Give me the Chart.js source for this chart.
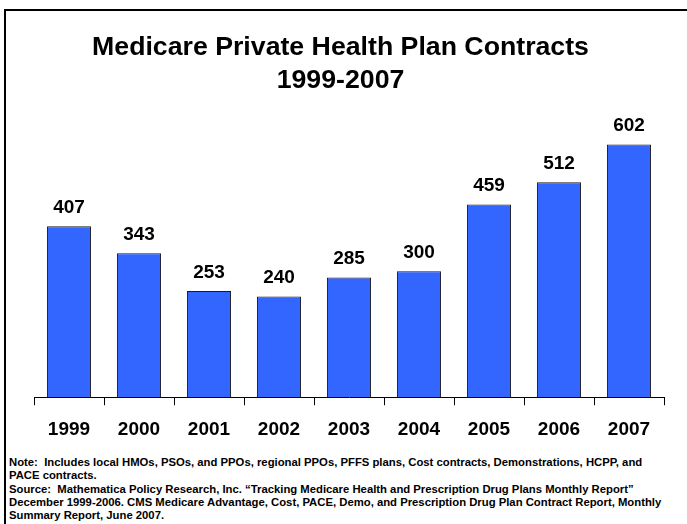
<!DOCTYPE html>
<html>
<head>
<meta charset="utf-8">
<script src="https://cdn.jsdelivr.net/npm/chart.js@4"></script>
<style>
  body { margin: 0; background: #fff; font-family: "Liberation Sans", Arial, sans-serif; }
  #wrap { position: relative; width: 687px; height: 524px; overflow: hidden; }
  #frame { position: absolute; left: 4px; top: 9px; width: 700px; height: 600px;
           border-top: 2px solid #000; border-left: 2px solid #000; }
  #chartBox { position: absolute; left: 0; top: 0; width: 687px; height: 455px; }
  #note { position: absolute; left: 9px; top: 456px; font-size: 11.3px; font-weight: bold;
          line-height: 13.3px; color: #000; white-space: nowrap; }
</style>
</head>
<body>
<div id="wrap">
  <div id="frame"></div>
  <div id="chartBox"><canvas id="chart"></canvas></div>
  <div id="note">
    Note:&nbsp; Includes local HMOs, PSOs, and PPOs, regional PPOs, PFFS plans, Cost contracts, Demonstrations, HCPP, and<br>
    PACE contracts.<br>
    Source:&nbsp; Mathematica Policy Research, Inc. “Tracking Medicare Health and Prescription Drug Plans Monthly Report”<br>
    December 1999-2006. CMS Medicare Advantage, Cost, PACE, Demo, and Prescription Drug Plan Contract Report, Monthly<br>
    Summary Report, June 2007.
  </div>
</div>
<script>
const years = ['1999', '2000', '2001', '2002', '2003', '2004', '2005', '2006', '2007'];
const contracts = [407, 343, 253, 240, 285, 300, 459, 512, 602];

// value labels above each bar
const barLabels = {
  id: 'barLabels',
  afterDatasetsDraw(chart) {
    const ctx = chart.ctx;
    const meta = chart.getDatasetMeta(0);
    ctx.save();
    ctx.font = 'bold 19px "Liberation Sans", Arial, sans-serif';
    ctx.fillStyle = '#000';
    ctx.textAlign = 'center';
    ctx.textBaseline = 'bottom';
    meta.data.forEach((bar, i) => {
      ctx.fillText(contracts[i], bar.x, bar.y - 9);
    });
    ctx.restore();
  }
};

new Chart(document.getElementById('chart'), {
  type: 'bar',
  data: {
    labels: years,
    datasets: [{
      data: contracts,
      backgroundColor: '#3366ff',
      borderColor: '#1a1a1a',
      borderWidth: 1,
      categoryPercentage: 0.63,
      barPercentage: 1
    }]
  },
  options: {
    responsive: true,
    maintainAspectRatio: false,
    animation: false,
    layout: { padding: { left: 17, right: 23, top: 0, bottom: 1 } },
    plugins: {
      legend: { display: false },
      tooltip: { enabled: false },
      title: {
        display: true,
        text: ['Medicare Private Health Plan Contracts', '1999-2007'],
        color: '#000',
        font: { family: '"Liberation Sans", Arial, sans-serif', size: 26.7, weight: 'bold', lineHeight: 1.24 },
        padding: { top: 31, bottom: 30 }
      }
    },
    scales: {
      x: {
        offset: true,
        border: { display: true, color: '#000', width: 1 },
        grid: { display: true, offset: true, drawOnChartArea: false, drawTicks: true, tickLength: 8, color: '#000' },
        ticks: {
          color: '#000',
          padding: 13,
          font: { family: '"Liberation Sans", Arial, sans-serif', size: 19, weight: 'bold' }
        }
      },
      y: {
        display: true,
        min: 0,
        max: 643,
        border: { display: false },
        grid: { display: false },
        ticks: { display: false },
        afterFit(scale) { scale.width = 17; }
      }
    }
  },
  plugins: [barLabels]
});
</script>
</body>
</html>
